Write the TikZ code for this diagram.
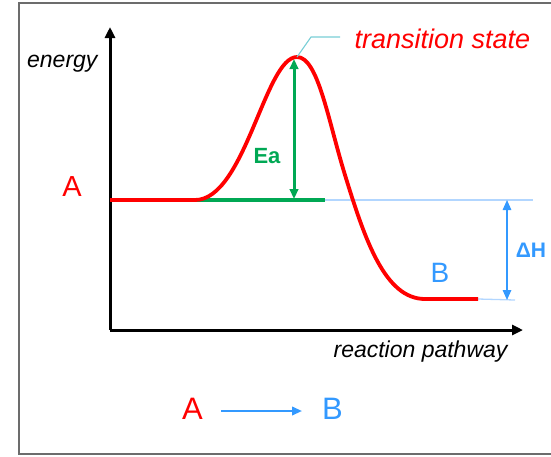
\documentclass[tikz,border=0pt]{standalone}
\usepackage{fontspec}
\setmainfont{Liberation Sans}
\usetikzlibrary{arrows.meta}
\definecolor{curvered}{RGB}{255,0,0}
\definecolor{eagreen}{RGB}{0,168,84}
\definecolor{dhblue}{RGB}{51,153,255}
\definecolor{paleblue}{RGB}{178,214,255}
\definecolor{leadcyan}{RGB}{120,206,214}

\begin{document}
\begin{tikzpicture}[>={Triangle[length=11pt,width=10pt]}, x=1pt, y=-1pt,
        axis/.style={->, line width=3pt, black},
        axislabel/.style={font=\fontsize{23}{27}\selectfont\itshape},
        species/.style={font=\fontsize{29}{34}\selectfont, anchor=base},
        small tip/.style={>={Triangle[length=10pt,width=8.5pt]}}]
        \useasboundingbox (0,0) rectangle (551,456);

        % Moldura
        \draw[gray!85!black, line width=1.4pt] (551,3) -- (19,3) -- (19,454) -- (551,454);

        % Eixos
        \coordinate (origin) at (110,330);
        \coordinate (ytop) at (110,27);
        \coordinate (xend) at (523,330);
        \draw[axis] (origin) -- (ytop);
        \draw[axis] (origin) -- (xend);
        \node[axislabel, anchor=base east] (energy) at (101,67) {energy};
        \node[axislabel, anchor=base east] (pathway) at (511,357) {reaction pathway};

        % Pontos da curva
        \coordinate (start) at (110,200);
        \coordinate (rise) at (195,200);
        \coordinate (peak) at (297,57);
        \coordinate (fall) at (345,175);
        \coordinate (low) at (425,299);
        \coordinate (stop) at (478,299);

        % Linhas de referencia
        \coordinate (greenend) at (325,200);
        \coordinate (paleend) at (533,200);
        \coordinate (lowend) at (515,300);
        \draw[eagreen, line width=3.2pt] (start) -- (greenend);
        \draw[paleblue, line width=1.3pt] (greenend) -- (paleend);
        \draw[paleblue, line width=1.3pt] (stop) -- (lowend);

        % Curva de energia
        \draw[curvered, line width=3.8pt] (start) -- (rise)
            .. controls (245,200) and (265,57) .. (peak)
            .. controls (318,57) and (328,120) .. (fall)
            .. controls (365,240) and (385,299) .. (low) -- (stop);

        % Energia de ativacao
        \coordinate (eabottom) at (294,199);
        \coordinate (eatop) at (294,59);
        \draw[<->, small tip, eagreen, line width=3pt] (eabottom) -- (eatop);
        \node[font=\fontsize{22}{26}\selectfont\bfseries, text=eagreen, anchor=base] (ea) at (267,163) {Ea};

        % Entalpia
        \coordinate (dhtop) at (507,200);
        \coordinate (dhbottom) at (507,300);
        \draw[<->, small tip, dhblue, line width=1.5pt] (dhtop) -- (dhbottom);
        \node[font=\fontsize{21}{25}\selectfont\bfseries, text=dhblue, anchor=base] (dh) at (531,257) {ΔH};

        % Estado de transicao
        \node[font=\fontsize{27}{32}\selectfont\itshape, text=curvered, anchor=base west] (ts) at (351,48) {transition state};
        \coordinate (bend) at (311,37);
        \coordinate (leadend) at (340,37);
        \draw[leadcyan, line width=1.1pt] (peak) -- (bend) -- (leadend);

        % Reagente e produto
        \node[species, text=curvered] (a) at (72,196) {A};
        \node[species, text=dhblue, font=\fontsize{28}{33}\selectfont] (b) at (440,282) {B};

        % Reacao
        \node[species, text=curvered, font=\fontsize{31}{36}\selectfont] (ra) at (192.5,419) {A};
        \node[species, text=dhblue, font=\fontsize{31}{36}\selectfont] (rb) at (332.5,419) {B};
        \coordinate (arrstart) at (221,411);
        \coordinate (arrend) at (302,411);
        \draw[->, small tip, dhblue, line width=2.2pt] (arrstart) -- (arrend);
    \end{tikzpicture}
\end{document}
